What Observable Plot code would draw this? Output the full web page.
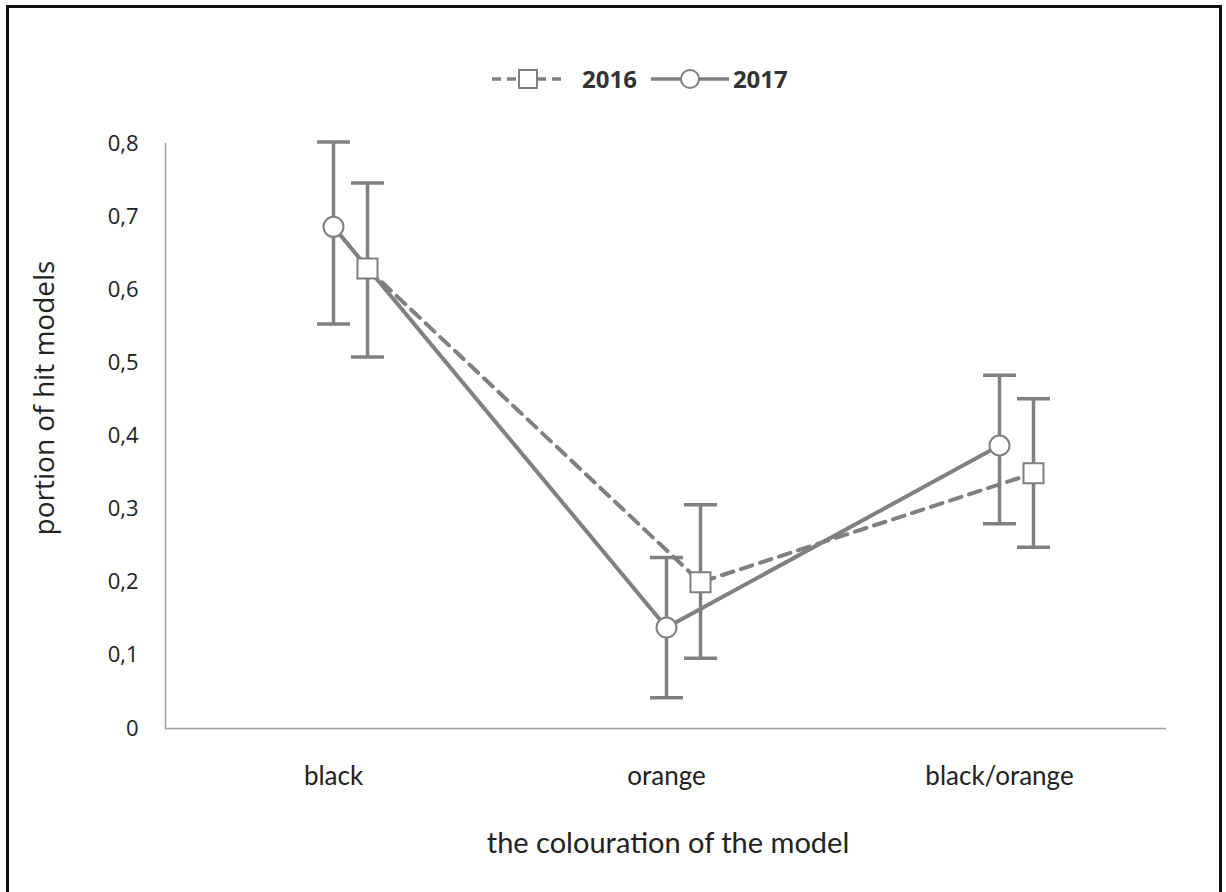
<!DOCTYPE html>
<html>
<head>
<meta charset="utf-8">
<script src="https://cdn.jsdelivr.net/npm/d3@7"></script>
<script src="https://cdn.jsdelivr.net/npm/@observablehq/plot@0.6"></script>
<style>
  html, body { margin: 0; padding: 0; background: #fff; }
  #wrap { position: relative; width: 1226px; height: 892px; overflow: hidden; background: #fff; }
  #border { position: absolute; left: 6px; top: 5px; width: 1210px; height: 920px;
            border: 3px solid #111; pointer-events: none; }
  #legend { position: relative; height: 120px; }
  .leg { position: absolute; top: 62px; left: 492px; display: flex; align-items: center;
         font-family: "Open Sans", sans-serif; font-weight: bold; font-size: 24px; color: #333; }
  .leg svg { display: block; }
  .leg span { margin: 0 14px 0 16px; }
</style>
</head>
<body>
<div id="wrap">
  <div id="legend"></div>
  <div id="chart"></div>
  <div id="border"></div>
</div>
<script>
// ---- data ----
const categories = ["black", "orange", "black/orange"];
const years = ["2016", "2017"];
const mean2016 = [0.629, 0.200, 0.349];
const low2016  = [0.508, 0.096, 0.248];
const high2016 = [0.746, 0.306, 0.451];
const mean2017 = [0.686, 0.138, 0.387];
const low2017  = [0.553, 0.042, 0.280];
const high2017 = [0.802, 0.234, 0.483];
const yTicks = [0, 0.1, 0.2, 0.3, 0.4, 0.5, 0.6, 0.7, 0.8];
const yTickLabels = ["0", "0,1", "0,2", "0,3", "0,4", "0,5", "0,6", "0,7", "0,8"];
const yLabel = "portion of hit models";
const xLabel = "the colouration of the model";

// ---- build tables ----
const rows = (mean, low, high, year) =>
  categories.map((c, i) => ({category: c, mean: mean[i], low: low[i], high: high[i], year}));
const rows2016 = rows(mean2016, low2016, high2016, years[0]);
const rows2017 = rows(mean2017, low2017, high2017, years[1]);

// ---- styles ----
const grey = "#808080";
const off2016 = 34;      // horizontal offset of the 2016 series (px)
const capHalf = 16.5;
const cap = {draw(ctx) { ctx.moveTo(-capHalf, 0); ctx.lineTo(capHalf, 0); }};

// ---- legend ----
const legend = document.getElementById("legend");
legend.innerHTML = `
<div class="leg">
  <svg width="74" height="24"><line x1="0" y1="12" x2="74" y2="12" stroke="${grey}" stroke-width="3.5" stroke-dasharray="9,6"/>
    <rect x="27" y="3" width="18" height="18" fill="#fff" stroke="${grey}" stroke-width="2"/></svg>
  <span>${years[0]}</span>
  <svg width="78" height="24"><line x1="0" y1="12" x2="78" y2="12" stroke="${grey}" stroke-width="3.5"/>
    <circle cx="39" cy="12" r="9" fill="#fff" stroke="${grey}" stroke-width="2"/></svg>
  <span style="margin-left:4px">${years[1]}</span>
</div>`;

const chart = Plot.plot({
  width: 1226,
  height: 772,
  marginLeft: 165,
  marginRight: 60,
  marginTop: 23,
  marginBottom: 164,
  style: {background: "#fff", overflow: "visible"},
  x: {type: "point", domain: categories, padding: 0.5},
  y: {domain: [0, 0.8]},
  marks: [
    Plot.frame({anchor: "left", stroke: "#a0a0a0", strokeWidth: 1.5}),
    Plot.ruleY([0], {stroke: "#a0a0a0", strokeWidth: 1.5}),
    Plot.axisY({ticks: yTicks, tickSize: 0, tickPadding: 27, label: null,
      tickFormat: d => yTickLabels[yTicks.indexOf(d)],
      fontSize: 22, fontFamily: "Open Sans, sans-serif", fill: "#222"}),
    Plot.axisX({tickSize: 0, tickPadding: 38, label: null,
      fontSize: 26, fontFamily: "Lato, sans-serif", fill: "#222"}),
    Plot.text([yLabel], {frameAnchor: "left", textAnchor: "middle", rotate: -90, dx: -120, dy: -38,
      fontSize: 28, fontFamily: "Open Sans, sans-serif", fill: "#222"}),
    Plot.text([xLabel], {frameAnchor: "bottom", textAnchor: "middle", lineAnchor: "middle", dy: 115, dx: 2,
      fontSize: 29, fontFamily: "Lato, sans-serif", fill: "#222"}),
    // error bars
    Plot.ruleX(rows2017, {x: "category", y1: "low", y2: "high", stroke: grey, strokeWidth: 3.5}),
    Plot.dot(rows2017, {x: "category", y: "low", symbol: cap, stroke: grey, strokeWidth: 3.5}),
    Plot.dot(rows2017, {x: "category", y: "high", symbol: cap, stroke: grey, strokeWidth: 3.5}),
    Plot.ruleX(rows2016, {x: "category", y1: "low", y2: "high", stroke: grey, strokeWidth: 3.5, dx: off2016}),
    Plot.dot(rows2016, {x: "category", y: "low", symbol: cap, stroke: grey, strokeWidth: 3.5, dx: off2016}),
    Plot.dot(rows2016, {x: "category", y: "high", symbol: cap, stroke: grey, strokeWidth: 3.5, dx: off2016}),
    // lines
    Plot.line(rows2016, {x: "category", y: "mean", stroke: grey, strokeWidth: 4,
      strokeDasharray: "12,8", dx: off2016}),
    Plot.line(rows2017, {x: "category", y: "mean", stroke: grey, strokeWidth: 4}),
    // markers
    Plot.dot(rows2016, {x: "category", y: "mean", symbol: "square", r: 11.3,
      fill: "#fff", stroke: grey, strokeWidth: 2, dx: off2016}),
    Plot.dot(rows2017, {x: "category", y: "mean", symbol: "circle", r: 10,
      fill: "#fff", stroke: grey, strokeWidth: 2})
  ]
});
document.getElementById("chart").appendChild(chart);
</script>
</body>
</html>
